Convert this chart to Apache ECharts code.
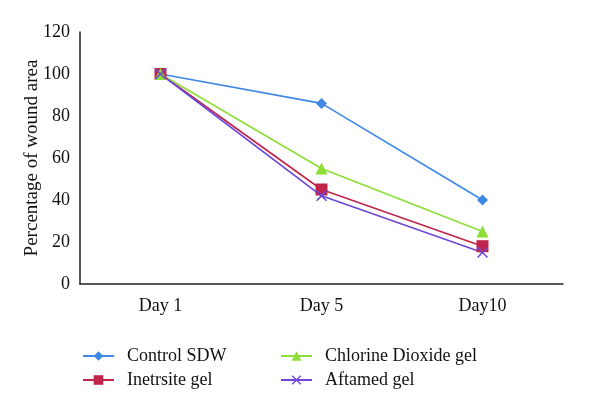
<!DOCTYPE html>
<html>
<head>
<meta charset="utf-8">
<script src="https://cdn.jsdelivr.net/npm/echarts@6/dist/echarts.min.js"></script>
<style>html,body{margin:0;padding:0;background:#fff}#c{width:600px;height:412px}</style>
</head>
<body>
<div id="c"></div>
<script>
const categories = ['Day 1', 'Day 5', 'Day10'];
const controlSDW = [100, 86, 40];
const inetrsiteGel = [100, 45, 18];
const chlorineGel = [100, 55, 25];
const aftamedGel = [100, 42, 15];
const yTicks = { min: 0, max: 120, interval: 20 };

const FONT = '"Liberation Serif", "DejaVu Serif", serif';
const crossPath = 'path://M0,1 L1,0 L5,4 L9,0 L10,1 L6,5 L10,9 L9,10 L5,6 L1,10 L0,9 L4,5 Z';

const chart = echarts.init(document.getElementById('c'), null, { renderer: 'canvas' });
const legendCommon = {
  orient: 'vertical', top: 342, itemWidth: 31, itemHeight: 12, itemGap: 6,
  textStyle: { fontFamily: FONT, fontSize: 18, color: '#111', padding: [0, 0, 0, 8] }
};
chart.setOption({
  animation: false,
  backgroundColor: '#fff',
  grid: { left: 80, right: 37, top: 32, bottom: 128 },
  legend: [
    Object.assign({}, legendCommon, { left: 77, data: ['Control SDW', 'Inetrsite gel'] }),
    Object.assign({}, legendCommon, { left: 275, data: ['Chlorine Dioxide gel', 'Aftamed gel'] })
  ],
  xAxis: {
    type: 'category', data: categories, boundaryGap: true,
    axisLine: { lineStyle: { color: '#222', width: 1.5 } },
    axisTick: { show: false },
    axisLabel: { fontFamily: FONT, fontSize: 18, color: '#111', margin: 13 }
  },
  yAxis: {
    type: 'value', min: yTicks.min, max: yTicks.max, interval: yTicks.interval,
    name: 'Percentage of wound area', nameLocation: 'middle', nameGap: 38,
    nameMoveOverlap: false,
    nameTextStyle: { fontFamily: FONT, fontSize: 19, color: '#111' },
    axisLine: { show: true, lineStyle: { color: '#222', width: 1.5 } },
    axisTick: { show: false },
    splitLine: { show: false },
    axisLabel: { fontFamily: FONT, fontSize: 18, color: '#111', margin: 10 }
  },
  series: [
    { name: 'Control SDW', type: 'line', data: controlSDW, symbol: 'diamond', symbolSize: 11,
      color: '#3D87E6', lineStyle: { width: 1.6 } },
    { name: 'Inetrsite gel', type: 'line', data: inetrsiteGel, symbol: 'rect', symbolSize: 12,
      color: '#C2254B', lineStyle: { width: 1.6 } },
    { name: 'Chlorine Dioxide gel', type: 'line', data: chlorineGel, symbol: 'triangle', symbolSize: 12,
      color: '#8DDE35', lineStyle: { width: 1.6 } },
    { name: 'Aftamed gel', type: 'line', data: aftamedGel, symbol: crossPath, symbolSize: 11,
      color: '#6C47D9', lineStyle: { width: 1.6 } }
  ]
});
</script>
</body>
</html>
